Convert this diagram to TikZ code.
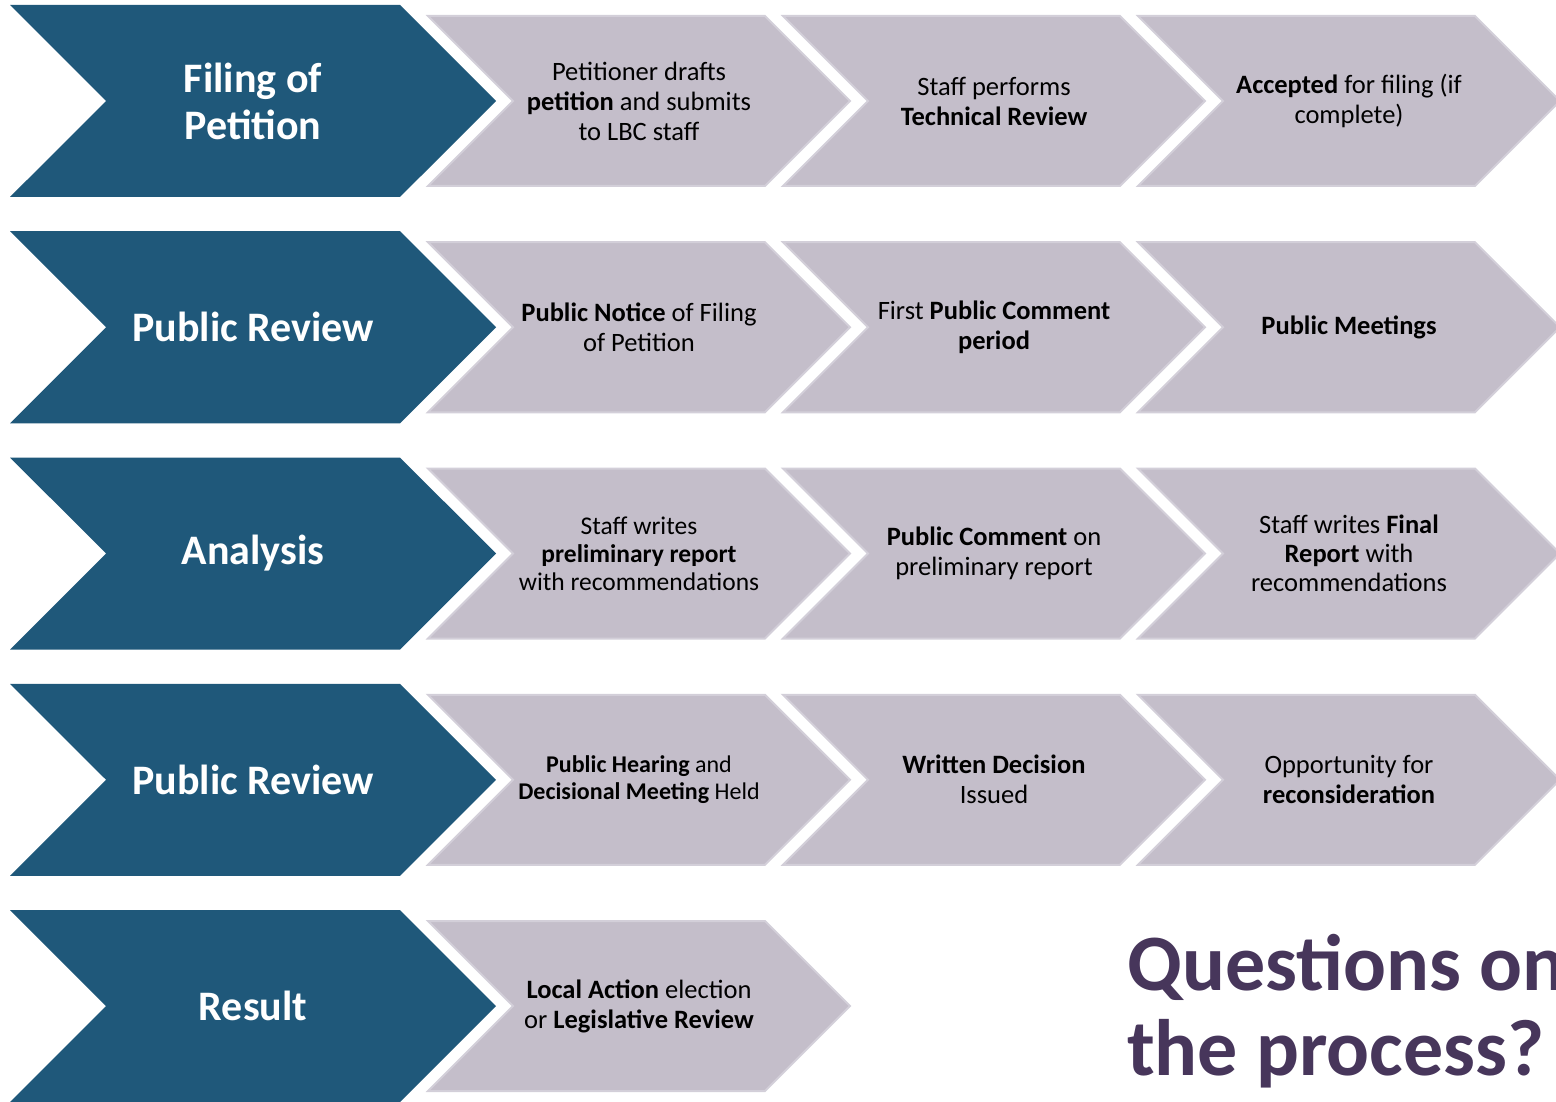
\documentclass[tikz,border=0pt]{standalone}
\usepackage{fontspec}
\setmainfont{Carlito}
\usepackage{tikz}
\usetikzlibrary{shapes.symbols,positioning}
\definecolor{stageblue}{HTML}{1F587A}
\definecolor{stepgray}{HTML}{C4BECA}
\definecolor{stepedge}{HTML}{D3CFD9}
\definecolor{askpurple}{HTML}{47365B}

\begin{document}
\begin{tikzpicture}[x=1pt,y=-1pt,
		stage/.style={signal,signal to=east,signal from=west,signal pointer angle=90,
			fill=stageblue,text=white,inner sep=0pt,minimum width=486pt,minimum height=192pt,
			align=center,font=\bfseries\fontsize{42}{47}\selectfont},
		stepbox/.style={signal,signal to=east,signal from=west,signal pointer angle=90,
			fill=stepgray,draw=stepedge,line width=2pt,text=black,inner sep=0pt,
			minimum width=422pt,minimum height=170pt,
			align=center,font=\fontsize{26.5}{30}\selectfont}]
		\clip (0,0) rectangle (1556,1102);
		
		\node[stage] (d1) at (253,101) {Filing of\\Petition};
		\node[stage] (d2) [below of=d1,node distance=226.25pt] {Public Review};
		\node[stage] (d3) [below of=d2,node distance=226.25pt] {Analysis};
		\node[stage] (d4) [below of=d3,node distance=226.25pt] {Public Review};
		\node[stage] (d5) [below of=d4,node distance=226.25pt] {Result};
		
		% row 1
		\node[stepbox] (s11) [right of=d1,node distance=386pt] {Petitioner drafts\\\textbf{petition} and submits\\to LBC staff};
		\node[stepbox] (s12) [right of=s11,node distance=355pt] {Staff performs\\\textbf{Technical Review}};
		\node[stepbox] (s13) [right of=s12,node distance=355pt] {\textbf{Accepted} for filing (if\\complete)};
		
		% row 2
		\node[stepbox] (s21) [right of=d2,node distance=386pt] {\textbf{Public Notice} of Filing\\of Petition};
		\node[stepbox] (s22) [right of=s21,node distance=355pt] {First \textbf{Public Comment}\\\textbf{period}};
		\node[stepbox] (s23) [right of=s22,node distance=355pt] {\textbf{Public Meetings}};
		
		% row 3
		\node[stepbox,font=\fontsize{25.5}{28}\selectfont] (s31) [right of=d3,node distance=386pt] {Staff writes\\\textbf{preliminary report}\\with recommendations};
		\node[stepbox] (s32) [right of=s31,node distance=355pt] {\textbf{Public Comment} on\\preliminary report};
		\node[stepbox,font=\fontsize{26.5}{29}\selectfont] (s33) [right of=s32,node distance=355pt] {Staff writes \textbf{Final}\\\textbf{Report} with\\recommendations};
		
		% row 4
		\node[stepbox,font=\fontsize{24}{27}\selectfont] (s41) [right of=d4,node distance=386pt] {\textbf{Public Hearing} and\\\textbf{Decisional Meeting} Held};
		\node[stepbox] (s42) [right of=s41,node distance=355pt] {\textbf{Written Decision}\\Issued};
		\node[stepbox] (s43) [right of=s42,node distance=355pt] {Opportunity for\\\textbf{reconsideration}};
		
		% row 5
		\node[stepbox] (s51) [right of=d5,node distance=386pt] {\textbf{Local Action} election\\or \textbf{Legislative Review}};
		
		% question, runs off the right edge as in the slide
		\node[anchor=base west,align=left,text=askpurple,inner sep=0pt,
			font=\bfseries\fontsize{80}{85}\selectfont] (ask) at (1127,1075) {Questions on\\the process?};
\end{tikzpicture}
\end{document}
